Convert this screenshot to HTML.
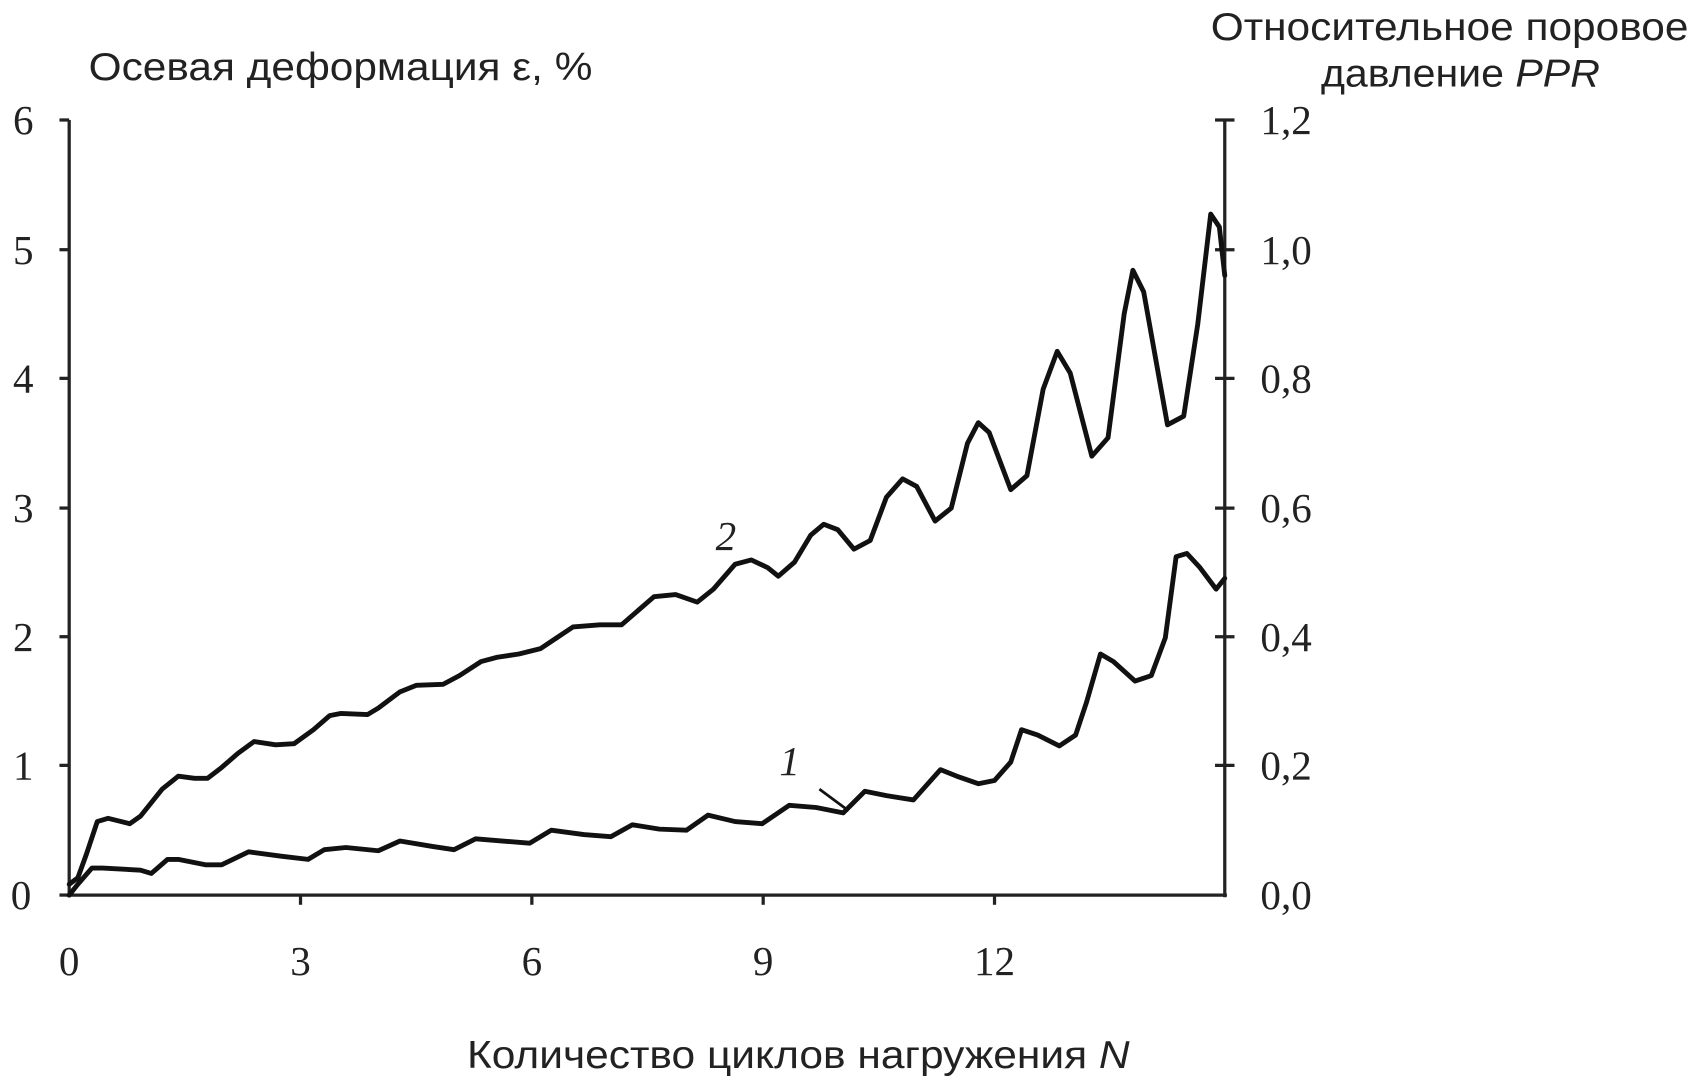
<!DOCTYPE html>
<html><head><meta charset="utf-8"><style>html,body{margin:0;padding:0;background:#fff;}svg{display:block}</style></head>
<body>
<svg width="1695" height="1081" viewBox="0 0 1568 1000" preserveAspectRatio="none" xmlns="http://www.w3.org/2000/svg">
<rect width="1568" height="1000" fill="#fff"/>
<g stroke="#222" stroke-width="3" fill="none">
<line x1="64" y1="111" x2="64" y2="830"/>
<line x1="1133" y1="111" x2="1133" y2="830"/>
<line x1="62" y1="828" x2="1135" y2="828"/>
<line x1="55" y1="111" x2="64" y2="111"/><line x1="55" y1="231" x2="64" y2="231"/><line x1="55" y1="350" x2="64" y2="350"/><line x1="55" y1="470" x2="64" y2="470"/><line x1="55" y1="589" x2="64" y2="589"/><line x1="55" y1="708" x2="64" y2="708"/><line x1="55" y1="828" x2="64" y2="828"/>
<line x1="1124" y1="111" x2="1142" y2="111"/><line x1="1124" y1="231" x2="1142" y2="231"/><line x1="1124" y1="350" x2="1142" y2="350"/><line x1="1124" y1="470" x2="1142" y2="470"/><line x1="1124" y1="589" x2="1142" y2="589"/><line x1="1124" y1="708" x2="1142" y2="708"/>
<line x1="278" y1="828" x2="278" y2="837"/><line x1="492" y1="828" x2="492" y2="837"/><line x1="706" y1="828" x2="706" y2="837"/><line x1="920" y1="828" x2="920" y2="837"/>
</g>
<g stroke="#111" stroke-width="4.5" fill="none" stroke-linejoin="round" stroke-linecap="round">
<polyline points="64,818 72,812 80,790 90,760 100,757 120,762 130,755 150,730 165,718 180,720 192,720 205,710 220,697 235,686 255,689 272,688 290,675 305,662 315,660 340,661 350,655 370,640 385,634 410,633 425,625 445,612 460,608 480,605 500,600 515,590 530,580 555,578 575,578 590,565 605,552 625,550 645,557 660,545 680,522 695,518 710,525 720,533 735,520 750,495 762,485 775,490 790,508 805,500 820,460 835,443 848,450 865,482 880,470 895,410 905,391 915,400 935,453 950,440 965,360 978,325 990,345 1010,422 1025,405 1040,290 1048,250 1058,270 1080,393 1095,385 1108,300 1120,198 1128,210 1133,255"/>
<polyline points="64,828 72,818 85,803 95,803 130,805 140,808 155,795 165,795 190,800 205,800 230,788 260,792 285,795 300,786 320,784 350,787 370,778 400,783 420,786 440,776 465,778 490,780 510,768 540,772 565,774 585,763 610,767 635,768 655,754 680,760 705,762 730,745 755,747 780,752 800,732 820,736 845,740 870,712 885,718 905,725 920,722 935,705 945,675 960,680 980,690 995,680 1005,650 1018,605 1030,612 1050,630 1065,625 1078,590 1088,515 1098,512 1110,525 1125,545 1133,535"/>
</g>
<line x1="758" y1="730" x2="785" y2="750" stroke="#111" stroke-width="2.5"/>
<g font-family="Liberation Serif, serif" font-size="38" fill="#222">
<text x="12" y="124">6</text><text x="12" y="244">5</text><text x="12" y="363">4</text><text x="12" y="483">3</text><text x="12" y="602">2</text><text x="12" y="721">1</text><text x="10" y="841">0</text>
<text x="1166" y="124">1,2</text><text x="1166" y="244">1,0</text><text x="1166" y="363">0,8</text><text x="1166" y="483">0,6</text><text x="1166" y="602">0,4</text><text x="1166" y="721">0,2</text><text x="1166" y="841">0,0</text>
<g text-anchor="middle"><text x="64" y="902">0</text><text x="278" y="902">3</text><text x="492" y="902">6</text><text x="706" y="902">9</text><text x="920" y="902">12</text></g>
<text x="662" y="509" font-style="italic">2</text><text x="721" y="717" font-style="italic">1</text>
</g>
<g font-family="Liberation Sans, sans-serif" font-size="36" fill="#222">
<text x="82" y="74" textLength="466" lengthAdjust="spacingAndGlyphs">Осевая деформация ε, %</text>
<text x="1120" y="37" textLength="442" lengthAdjust="spacingAndGlyphs">Относительное поровое</text>
<text x="1222" y="80" textLength="258" lengthAdjust="spacingAndGlyphs">давление <tspan font-style="italic">PPR</tspan></text>
<text x="432" y="988" textLength="613" lengthAdjust="spacingAndGlyphs">Количество циклов нагружения <tspan font-style="italic">N</tspan></text>
</g>
</svg>
</body></html>
